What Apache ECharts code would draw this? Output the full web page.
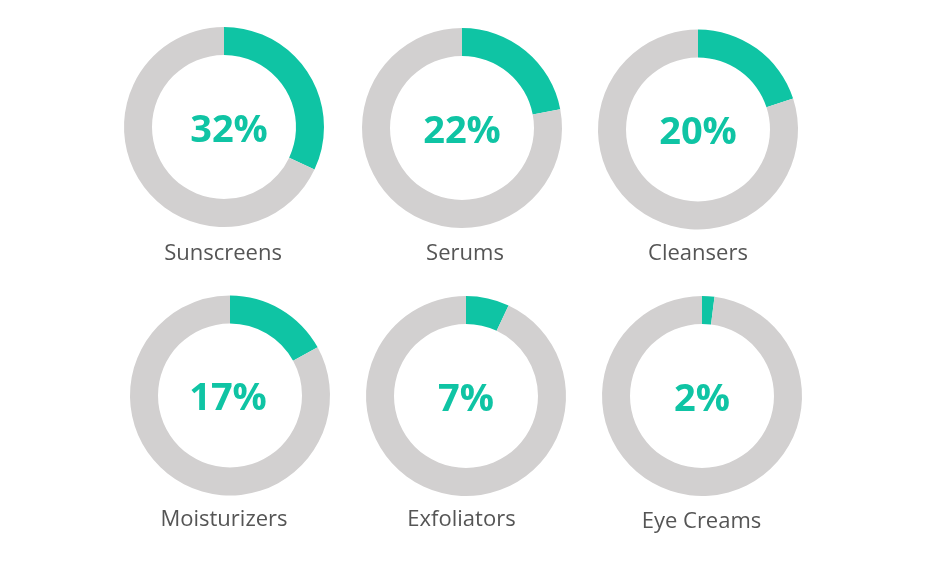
<!DOCTYPE html>
<html>
<head>
<meta charset="utf-8">
<script src="https://cdn.jsdelivr.net/npm/echarts@6/dist/echarts.min.js"></script>
<style>
	html, body { margin: 0; padding: 0; background: #fff; }
	#chart { width: 944px; height: 562px; }
</style>
</head>
<body>
<div id="chart"></div>
<script>
const categories = ['Sunscreens', 'Serums', 'Cleansers', 'Moisturizers', 'Exfoliators', 'Eye Creams'];
const shares = [32, 22, 20, 17, 7, 2];

// donut centres in px, one per category
const centers = [
	[224, 127], [462, 128], [698, 129.5],
	[230, 395.5], [466, 396], [702, 396]
];
// caption centre x / top, and small nudge of the big number
const captionX = [223, 465, 698, 224, 461.5, 701.5];
const captionTop = [243, 243, 243, 509, 509, 511];
const numberShift = [10, 0, 0, -4, 0, 0];

const teal = '#0fc4a4';
const grey = '#d2d0d0';

const myChart = echarts.init(document.getElementById('chart'));

const series = categories.map((name, i) => {
	return {
		type: 'pie',
		center: centers[i],
		radius: [72, 100],
		startAngle: 90,
		clockwise: true,
		silent: true,
		avoidLabelOverlap: false,
		labelLine: { show: false },
		emphasis: { disabled: true },
		data: [
			{
				value: shares[i],
				name: name,
				itemStyle: { color: teal },
				label: {
					show: true,
					position: 'center',
					formatter: '{gap|}\n{v|{c}%}',
					rich: {
						gap: { lineHeight: 8, fontSize: 1 },
						v: {
							color: teal,
							fontFamily: 'Open Sans',
							fontWeight: 'bold',
							fontSize: 38,
							lineHeight: 46,
							padding: [0, numberShift[i] < 0 ? -numberShift[i] : 0, 0, numberShift[i] > 0 ? numberShift[i] : 0]
						}
					}
				}
			},
			{
				value: 100 - shares[i],
				name: 'rest',
				itemStyle: { color: grey },
				label: { show: false }
			}
		]
	};
});

const titles = categories.map((name, i) => {
	return {
		text: name,
		left: captionX[i],
		top: captionTop[i],
		textAlign: 'center',
		padding: 0,
		textStyle: {
			color: '#555',
			fontFamily: 'Open Sans',
			fontWeight: 'normal',
			fontSize: 22
		}
	};
});

const option = {
	animation: false,
	title: titles,
	series: series
};
myChart.setOption(option, true);
</script>
</body>
</html>
